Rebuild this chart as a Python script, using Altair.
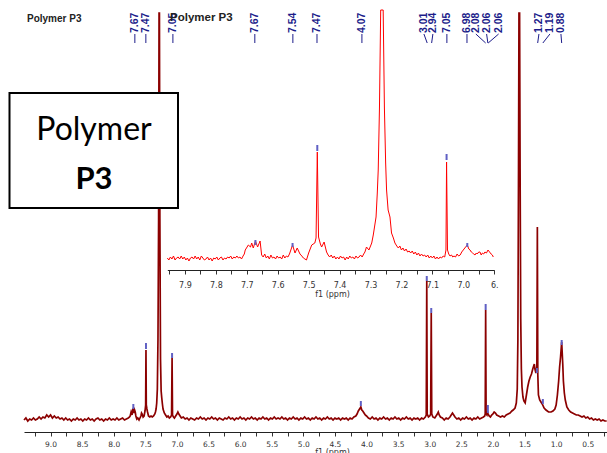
import altair as alt
import pandas as pd

# ---------------- data ----------------
# main spectrum (ppm, intensity above baseline)
main_points = [
    (9.42,-1),(9.39,1),(9.36,-2),(9.33,0),(9.30,-1),(9.27,1),(9.24,-1),(9.21,0),(9.18,2),(9.15,0),
    (9.12,2),(9.09,1),(9.06,4),(9.03,2),(9.00,4),(8.97,1),(8.94,3),(8.91,1),(8.88,2),(8.85,0),
    (8.82,1),(8.79,-1),(8.76,1),(8.73,-1),(8.70,0),(8.67,-2),(8.64,0),(8.61,-1),(8.58,1),(8.55,-1),
    (8.52,0),(8.49,-2),(8.46,0),(8.43,-1),(8.40,1),(8.37,-1),(8.34,0),(8.31,-2),(8.28,0),(8.25,1),
    (8.22,-1),(8.19,0),(8.16,-2),(8.13,0),(8.10,-1),(8.07,1),(8.04,-1),(8.01,0),(7.98,-1),(7.95,1),
    (7.92,-1),(7.89,0),(7.86,1),(7.83,-1),(7.80,0),(7.77,1),(7.75,2),
    (7.74,3),(7.725,7),(7.71,4),(7.70,9),(7.69,11),(7.68,6),(7.67,9),(7.66,7),(7.65,3),(7.635,0),
    (7.62,1),(7.60,-1),(7.585,1),(7.57,3),(7.56,6),(7.55,5),(7.535,2),(7.52,3),(7.505,8),(7.495,14),
    (7.49,69),(7.485,14),(7.475,10),(7.465,7),(7.45,3),(7.43,2),(7.41,3),(7.39,2),(7.37,3),(7.35,5),
    (7.34,7),(7.33,10),(7.32,16),(7.31,30),(7.30,80),(7.29,200),(7.283,406),(7.277,406),(7.27,200),
    (7.26,60),(7.25,28),(7.24,21),(7.23,15),(7.22,10),(7.20,6),(7.18,4),(7.16,2),(7.14,3),(7.12,1),
    (7.10,2),(7.085,4),(7.077,61),(7.07,4),(7.055,2),(7.04,1),(7.02,3),(7.00,5),(6.985,7),(6.97,5),
    (6.95,3),(6.93,1),(6.90,2),
    (6.87,0),(6.84,1),(6.81,-1),(6.78,1),(6.75,0),(6.72,-1),(6.69,1),(6.66,0),(6.63,2),(6.60,0),
    (6.57,1),(6.54,-1),(6.51,1),(6.48,0),(6.45,2),(6.42,0),(6.39,1),(6.36,-1),(6.33,1),(6.30,0),
    (6.27,-1),(6.24,1),(6.21,0),(6.18,2),(6.15,0),(6.12,1),(6.09,-1),(6.06,1),(6.03,0),(6.00,2),
    (5.97,0),(5.94,1),(5.91,-1),(5.88,1),(5.85,0),(5.82,2),(5.79,0),(5.76,1),(5.73,-1),(5.70,1),
    (5.67,0),(5.64,2),(5.61,0),(5.58,1),(5.55,-1),(5.52,1),(5.49,0),(5.46,2),(5.43,0),(5.40,1),
    (5.37,0),(5.34,2),(5.31,0),(5.28,1),(5.25,-1),(5.22,1),(5.19,0),(5.16,2),(5.13,0),(5.10,1),
    (5.07,-1),(5.04,1),(5.01,0),(4.98,2),(4.95,0),(4.92,1),(4.89,-1),(4.86,1),(4.83,0),(4.80,2),
    (4.77,0),(4.74,1),(4.71,-1),(4.68,1),(4.65,0),(4.62,2),(4.59,0),(4.56,1),(4.53,-1),(4.50,1),
    (4.47,0),(4.44,1),(4.41,-1),(4.38,1),(4.35,0),(4.32,1),(4.29,-1),(4.26,1),(4.23,0),
    (4.20,2),(4.17,3),(4.15,5),(4.13,8),(4.11,10),(4.09,12),(4.075,9),(4.06,8),(4.04,6),(4.02,4),
    (4.00,3),(3.97,1),
    (3.94,0),(3.91,2),(3.88,0),(3.85,1),(3.82,-1),(3.79,1),(3.76,0),(3.73,2),(3.70,0),(3.67,1),
    (3.64,-1),(3.61,1),(3.58,0),(3.55,2),(3.52,0),(3.49,1),(3.46,-1),(3.43,1),(3.40,0),(3.37,2),
    (3.34,0),(3.31,1),(3.28,-1),(3.25,1),(3.22,0),(3.19,1),(3.16,-1),(3.13,1),(3.10,0),
    (3.07,2),(3.055,4),(3.047,138),(3.04,5),(3.02,2),(3.00,3),(2.985,5),(2.976,106),(2.968,5),(2.95,2),
    (2.92,1),(2.90,3),(2.88,5),(2.865,7),(2.85,4),(2.83,2),(2.80,1),(2.77,-1),(2.74,1),(2.71,0),
    (2.68,2),(2.66,4),(2.64,6),(2.62,4),(2.60,2),(2.57,0),(2.54,1),(2.51,-1),(2.48,1),(2.45,0),
    (2.42,2),(2.39,0),(2.36,1),(2.33,-1),(2.30,1),(2.27,0),(2.24,2),(2.21,0),(2.18,1),(2.15,2),
    (2.13,3),(2.122,5),(2.115,109),(2.108,5),(2.095,4),(2.085,7),(2.075,5),(2.06,3),(2.04,2),(2.02,4),
    (2.00,5),(1.98,7),(1.96,6),(1.94,4),(1.91,3),(1.88,2),(1.85,3),(1.82,2),(1.79,4),(1.76,5),
    (1.73,6),(1.70,8),(1.68,9),(1.65,11),(1.63,16),(1.615,30),(1.605,80),(1.595,250),(1.588,406),
    (1.578,406),(1.57,250),(1.56,100),(1.55,50),(1.54,32),(1.525,22),(1.51,18),(1.49,16),(1.47,24),
    (1.45,32),(1.43,38),(1.41,42),(1.39,45),(1.37,50),(1.355,53),(1.345,55),(1.335,50),(1.32,46),
    (1.305,52),(1.297,192),(1.29,45),(1.28,24),(1.26,19),(1.24,17),(1.22,15),(1.19,11),(1.16,9),
    (1.12,7),(1.08,7),(1.05,8),(1.02,10),(1.00,14),(0.98,24),(0.96,38),(0.945,52),(0.93,62),
    (0.912,77),(0.895,55),(0.885,38),(0.87,26),(0.855,19),(0.83,12),(0.80,9),(0.77,7),(0.74,6),
    (0.71,5),(0.68,4),(0.65,4),(0.62,3),(0.59,2),(0.56,3),(0.53,1),(0.50,2),(0.47,0),(0.44,1),
    (0.41,-1),(0.38,0),(0.35,-1),(0.32,0),(0.29,-2),(0.26,-1),(0.23,-2),(0.20,-2),
]

# inset (aromatic region) spectrum
inset_points = [
    (7.957,0),(7.952,-2),(7.947,1),(7.942,-1),(7.937,2),(7.932,-2),(7.927,0),(7.922,1),(7.917,-1),
    (7.912,2),(7.907,-1),(7.902,1),(7.897,-2),(7.892,0),(7.887,-3),(7.882,0),(7.877,1),(7.872,-1),
    (7.867,2),(7.862,-1),(7.857,1),(7.852,-2),(7.847,2),(7.842,0),(7.837,-2),(7.832,-1),(7.827,1),
    (7.822,-2),(7.817,0),(7.812,-3),(7.807,0),(7.802,-1),(7.797,1),(7.792,-2),(7.787,0),(7.782,1),
    (7.777,-2),(7.772,0),(7.767,-1),(7.762,1),(7.757,0),(7.752,2),(7.747,-1),(7.742,1),(7.737,0),
    (7.732,2),(7.727,0),(7.722,1),(7.717,-1),(7.712,2),(7.708,4),
    (7.705,8),(7.695,13),(7.688,11),(7.684,15),(7.679,10),(7.672,17),(7.665,11),(7.657,17),(7.652,3),
    (7.647,1),(7.642,4),(7.637,0),(7.632,2),(7.627,-1),(7.622,3),(7.617,0),(7.612,1),(7.607,-1),
    (7.602,2),(7.597,0),(7.592,1),(7.587,-1),(7.582,3),(7.577,0),(7.572,2),(7.567,1),(7.562,4),
    (7.552,13),(7.544,5),(7.537,10),(7.528,4),(7.522,2),(7.517,0),(7.512,-1),(7.507,-2),(7.50,5),
    (7.49,13),(7.48,15),(7.476,20),(7.472,106),(7.468,21),(7.462,14),(7.458,11),(7.45,16),(7.442,6),
    (7.437,3),(7.432,1),(7.427,3),(7.422,0),(7.417,2),(7.412,-1),(7.407,1),(7.402,-1),(7.397,2),
    (7.392,0),(7.387,1),(7.382,-2),(7.377,1),(7.372,-1),(7.367,2),(7.362,0),(7.357,1),(7.352,-1),
    (7.347,2),(7.342,0),(7.337,1),(7.332,3),(7.327,1),(7.322,4),(7.318,6),(7.313,11),(7.305,8),
    (7.296,15),(7.291,23),(7.282,41),(7.278,65),(7.275,88),(7.271,150),(7.267,248),(7.259,248),
    (7.255,150),(7.251,95),(7.248,68),(7.243,48),(7.237,41),(7.232,25),(7.226,20),(7.221,15),
    (7.215,12),(7.21,10),(7.205,12),(7.20,8),(7.195,10),(7.19,7),(7.185,9),(7.18,6),(7.175,7),
    (7.17,5),(7.165,7),(7.16,4),(7.155,6),(7.15,3),(7.145,5),(7.14,2),(7.135,4),(7.13,2),(7.125,3),
    (7.12,1),(7.115,3),(7.11,0),(7.105,2),(7.10,0),(7.095,2),(7.09,-1),(7.085,1),(7.08,-1),
    (7.075,1),(7.07,0),(7.065,2),(7.06,1),(7.056,8),(7.054,96),(7.051,8),(7.047,4),(7.043,2),
    (7.038,3),(7.034,1),(7.03,2),(7.025,1),(7.02,4),(7.015,2),(7.01,3),(7.005,6),(7.0,8),
    (6.995,10),(6.987,13),(6.982,9),(6.978,8),(6.974,6),(6.97,5),(6.966,4),(6.962,3),(6.958,5),
    (6.955,4),(6.95,6),(6.946,6),(6.942,3),(6.938,5),(6.934,4),(6.93,6),(6.925,5),(6.92,8),
    (6.915,6),(6.91,4),(6.906,3),(6.903,1),
]

# peak labels of the main spectrum: text, label position (ppm), connector end (ppm)
main_label_text = ["7.67", "7.47", "7.05", "4.07", "3.01", "2.94", "2.08", "2.06", "2.06", "1.27", "1.19", "0.88"]
main_label_ppm = [7.666, 7.492, 7.064, 4.073, 3.092, 2.950, 2.270, 2.100, 1.910, 1.272, 1.098, 0.924]
main_label_end = [7.666, 7.492, 7.064, 4.073, 3.040, 2.970, 2.115, 2.080, 2.075, 1.292, 1.210, 0.912]

# peak labels of the inset
inset_label_text = ["7.67", "7.54", "7.47", "7.05", "6.98"]
inset_label_ppm = [7.674, 7.551, 7.473, 7.053, 6.988]

# small peak markers (ppm, bottom, top)
main_markers = [(7.69, 10, 15), (7.49, 70, 76), (7.077, 61, 66), (4.09, 13, 18), (3.047, 138, 143),
                (2.976, 106, 111), (2.115, 109, 115), (2.08, 6, 14), (1.305, 46, 51), (1.21, 15, 20),
                (0.912, 74, 79)]
inset_markers = [(7.472, 107, 113), (7.054, 98, 104), (7.672, 13, 18), (7.552, 11, 15), (6.987, 11, 15)]

main_ticks = [9.25, 9.0, 8.75, 8.5, 8.25, 8.0, 7.75, 7.5, 7.25, 7.0, 6.75, 6.5, 6.25, 6.0, 5.75, 5.5,
              5.25, 5.0, 4.75, 4.5, 4.25, 4.0, 3.75, 3.5, 3.25, 3.0, 2.75, 2.5, 2.25, 2.0, 1.75, 1.5,
              1.25, 1.0, 0.75, 0.5, 0.25]
inset_ticks = [7.95, 7.9, 7.85, 7.8, 7.75, 7.7, 7.65, 7.6, 7.55, 7.5, 7.45, 7.4, 7.35, 7.3, 7.25,
               7.2, 7.15, 7.1, 7.05, 7.0, 6.95, 6.9]

# ---------------- frames ----------------
df_main = pd.DataFrame(main_points, columns=["ppm", "inten"])
df_inset = pd.DataFrame(inset_points, columns=["ppm", "inten"])
df_mlab = pd.DataFrame({"label": main_label_text, "ppm": main_label_ppm, "end": main_label_end})
df_ilab = pd.DataFrame({"label": inset_label_text, "ppm": inset_label_ppm, "end": inset_label_ppm})
df_mmark = pd.DataFrame(main_markers, columns=["ppm", "lo", "hi"])
df_imark = pd.DataFrame(inset_markers, columns=["ppm", "lo", "hi"])
one = pd.DataFrame({"k": [0]})

NAVY = "#1c1c8a"
MARK = "#6060c4"

XM = alt.Scale(domain=[9.42, 0.195], range=[24, 607], nice=False, zero=False)
YM = alt.Scale(domain=[-13, 419], nice=False, zero=False)
XI = alt.Scale(domain=[7.957, 6.90], range=[167.3, 494.2], nice=False, zero=False)
YI = alt.Scale(domain=[-12, 258], range=[270, 0], nice=False, zero=False)

axis_common = dict(orient="bottom", grid=False, domainColor="#222222", tickColor="#333333",
                   tickSize=4, labelFont="DejaVu Sans", labelColor="#333333",
                   labelOverlap=False, labelFlush=False, title="f1 (ppm)",
                   titleFont="DejaVu Sans", titleFontSize=8, titleFontWeight="normal",
                   titleColor="#333333", titleX=332, titleBaseline="top")

main_axis = alt.Axis(values=main_ticks, labelFontSize=7.5, labelPadding=4, titleY=16.5,
                     labelExpr="round(datum.value*100) % 50 == 0 ? format(datum.value, '.1f') : ''",
                     **axis_common)
inset_axis = alt.Axis(values=inset_ticks, labelFontSize=8, labelPadding=7, titleY=20, offset=-162,
                      labelExpr="round(datum.value*100) % 10 == 0 ? (round(datum.value*100) == 690 ? '6.' : format(datum.value, '.1f')) : ''",
                      **axis_common)

# ---------------- main layer ----------------
m_line = alt.Chart(df_main).mark_line(color="#8b0000", strokeWidth=1.7, clip=True).encode(
    x=alt.X("ppm:Q", scale=XM, axis=main_axis),
    y=alt.Y("inten:Q", scale=YM, axis=None),
)
m_mark = alt.Chart(df_mmark).mark_rule(color=MARK, strokeWidth=2).encode(
    x=alt.X("ppm:Q", scale=XM, axis=main_axis),
    y=alt.Y("lo:Q", scale=YM, axis=None),
    y2="hi:Q",
)
m_conn = alt.Chart(df_mlab).mark_rule(color=NAVY, strokeWidth=1).encode(
    x=alt.X("ppm:Q", scale=XM, axis=main_axis),
    x2="end:Q",
    y=alt.value(34),
    y2=alt.value(43),
)
m_text = alt.Chart(df_mlab).mark_text(angle=270, align="left", baseline="middle",
                                      font="Liberation Sans", fontWeight="bold", fontSize=10.5,
                                      color=NAVY).encode(
    x=alt.X("ppm:Q", scale=XM, axis=main_axis),
    y=alt.value(33),
    text="label:N",
)
box = alt.Chart(one).mark_rect(fill="white", stroke="black", strokeWidth=2).encode(
    x=alt.value(9.5), x2=alt.value(178), y=alt.value(93), y2=alt.value(208))
box_t1 = alt.Chart(one).mark_text(text="Polymer", font="Lato", fontSize=32, color="black",
                                  align="center", baseline="alphabetic").encode(
    x=alt.value(94), y=alt.value(140))
box_t2 = alt.Chart(one).mark_text(text="P3", font="Lato", fontSize=31, fontWeight="bold",
                                  color="black", align="center", baseline="alphabetic").encode(
    x=alt.value(94), y=alt.value(188.5))

main_layer = alt.layer(m_line, m_mark, m_conn, m_text, box, box_t1, box_t2)

# ---------------- inset layer ----------------
i_line = alt.Chart(df_inset).mark_line(color="#ff0000", strokeWidth=1, clip=True).encode(
    x=alt.X("ppm:Q", scale=XI, axis=inset_axis),
    y=alt.Y("inten:Q", scale=YI, axis=None),
)
i_mark = alt.Chart(df_imark).mark_rule(color=MARK, strokeWidth=2).encode(
    x=alt.X("ppm:Q", scale=XI, axis=inset_axis),
    y=alt.Y("lo:Q", scale=YI, axis=None),
    y2="hi:Q",
)
i_conn = alt.Chart(df_ilab).mark_rule(color=NAVY, strokeWidth=1).encode(
    x=alt.X("ppm:Q", scale=XI, axis=inset_axis),
    x2="end:Q",
    y=alt.value(34),
    y2=alt.value(43),
)
i_text = alt.Chart(df_ilab).mark_text(angle=270, align="left", baseline="middle",
                                      font="Liberation Sans", fontWeight="bold", fontSize=10.5,
                                      color=NAVY).encode(
    x=alt.X("ppm:Q", scale=XI, axis=inset_axis),
    y=alt.value(33),
    text="label:N",
)
inset_layer = alt.layer(i_line, i_mark, i_conn, i_text)

# ---------------- titles ----------------
t1 = alt.Chart(one).mark_text(text="Polymer P3", font="Liberation Sans", fontWeight="bold",
                              fontSize=10, color="#222222", align="left",
                              baseline="alphabetic").encode(x=alt.value(27), y=alt.value(21.5))
t2 = alt.Chart(one).mark_text(text="Polymer P3", font="Liberation Sans", fontWeight="bold",
                              fontSize=11.5, color="#222222", align="left",
                              baseline="alphabetic").encode(x=alt.value(170), y=alt.value(20.5))

chart = alt.layer(main_layer, inset_layer, t1, t2).resolve_scale(
    x="independent", y="independent"
).resolve_axis(
    x="independent", y="independent"
).properties(
    width=607, height=432,
    autosize=alt.AutoSizeParams(type="none"),
    padding={"left": 0, "top": 0, "right": 0, "bottom": 21},
    background="white",
).configure_view(stroke=None)

chart.save("out.html", embed_options={"renderer": "svg", "actions": False})
